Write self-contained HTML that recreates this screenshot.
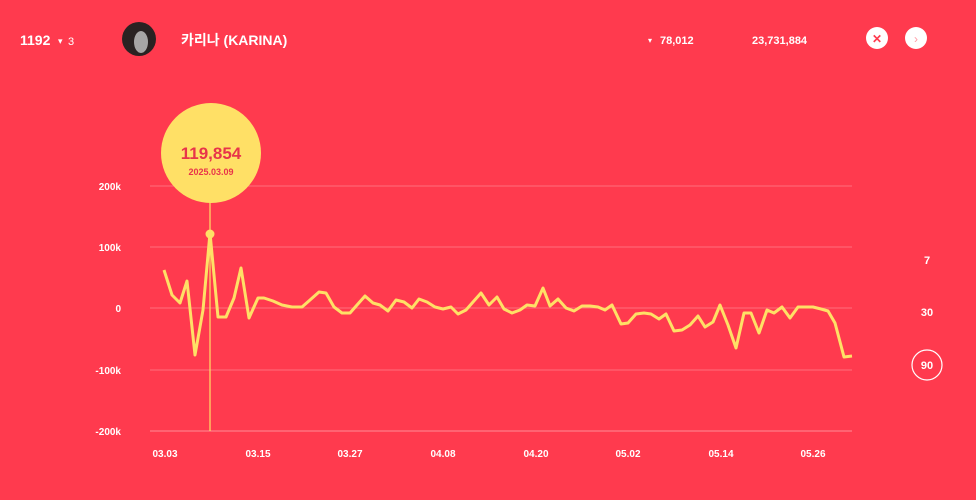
<!DOCTYPE html>
<html><head><meta charset="utf-8"><style>
html,body{margin:0;padding:0;background:#ff3a4e;}
body{width:976px;height:500px;overflow:hidden;font-family:"Liberation Sans","Noto Sans CJK KR",sans-serif;}
</style></head><body>
<svg width="976" height="500" xmlns="http://www.w3.org/2000/svg" style="display:block">
<rect width="976" height="500" fill="#ff3a4e"/>
<g font-family="Liberation Sans, Noto Sans CJK KR, sans-serif" fill="#fff">
<text x="20" y="45" font-size="14" font-weight="bold">1192</text>
<text x="58" y="44" font-size="9">▾</text>
<text x="68" y="45" font-size="11">3</text>
<circle cx="139" cy="39" r="17" fill="#2a2222"/>
<ellipse cx="141" cy="42" rx="7" ry="11" fill="#ddd" opacity="0.7"/>
<text x="181" y="45" font-size="14" font-weight="bold">카리나 (KARINA)</text>
<text x="648" y="43" font-size="8">▾</text>
<text x="660" y="44" font-size="11" font-weight="bold">78,012</text>
<text x="752" y="44" font-size="11" font-weight="bold">23,731,884</text>
<circle cx="877" cy="38" r="11" fill="#fff"/>
<text x="877" y="43" font-size="12" font-weight="bold" fill="#ff3a4e" text-anchor="middle">✕</text>
<circle cx="916" cy="38" r="11" fill="#fff"/>
<text x="916" y="43" font-size="12" fill="#ff9aa5" text-anchor="middle">›</text>
</g>
<g stroke="#ff6f7c" stroke-width="1">
<line x1="150" y1="186" x2="852" y2="186"/><line x1="150" y1="247" x2="852" y2="247"/>
<line x1="150" y1="308" x2="852" y2="308"/><line x1="150" y1="370" x2="852" y2="370"/>
<line x1="150" y1="431" x2="852" y2="431" stroke="#ff8c97"/>
</g>
<g fill="#fff" font-size="10" font-weight="bold" font-family="Liberation Sans, sans-serif" text-anchor="end">
<text x="121" y="190">200k</text><text x="121" y="251">100k</text><text x="121" y="312">0</text>
<text x="121" y="374">-100k</text><text x="121" y="435">-200k</text>
</g>
<g fill="#fff" font-size="10" font-weight="bold" font-family="Liberation Sans, sans-serif" text-anchor="middle">
<text x="165" y="457">03.03</text><text x="258" y="457">03.15</text><text x="350" y="457">03.27</text>
<text x="443" y="457">04.08</text><text x="536" y="457">04.20</text><text x="628" y="457">05.02</text>
<text x="721" y="457">05.14</text><text x="813" y="457">05.26</text>
<text x="927" y="264" font-size="11">7</text><text x="927" y="316" font-size="11">30</text>
<text x="927" y="369" font-size="11">90</text>
</g>
<circle cx="927" cy="365" r="15" fill="none" stroke="#fff" stroke-width="1.2"/>
<line x1="210" y1="190" x2="210" y2="431" stroke="#ffe066" stroke-width="1.2"/>
<polyline fill="none" stroke="#ffe066" stroke-width="3" stroke-linejoin="round" points="164,270 172,295 180,303 187,281 195,355 203,310 210,233 218,317 226,317 234,298 241,268 249,318 258,298 264,298 273,301 282,305 292,307 302,307 310,300 319,292 326,293 334,307 342,313 350,313 357,305 365,296 373,303 380,305 388,311 396,300 404,302 412,308 419,299 427,302 435,307 443,309 451,307 458,314 466,310 473,302 481,293 489,305 497,297 504,309 512,313 520,310 527,305 535,306 543,288 550,306 558,299 566,308 574,311 582,306 590,306 598,307 605,310 612,305 621,324 628,323 636,314 644,313 651,314 659,319 666,314 674,331 682,330 690,325 698,316 705,327 713,322 720,305 728,325 736,348 744,313 751,313 759,333 767,310 774,313 782,307 790,318 798,307 806,307 813,307 821,309 828,311 835,323 844,357 852,356"/>
<circle cx="210" cy="234" r="4.5" fill="#ffe066"/>
<circle cx="211" cy="153" r="50" fill="#ffe066"/>
<text x="211" y="159" font-size="17" font-weight="bold" fill="#e8344a" text-anchor="middle" font-family="Liberation Sans, sans-serif">119,854</text>
<text x="211" y="175" font-size="9" font-weight="bold" fill="#e8344a" text-anchor="middle" font-family="Liberation Sans, sans-serif">2025.03.09</text>
</svg>
</body></html>
